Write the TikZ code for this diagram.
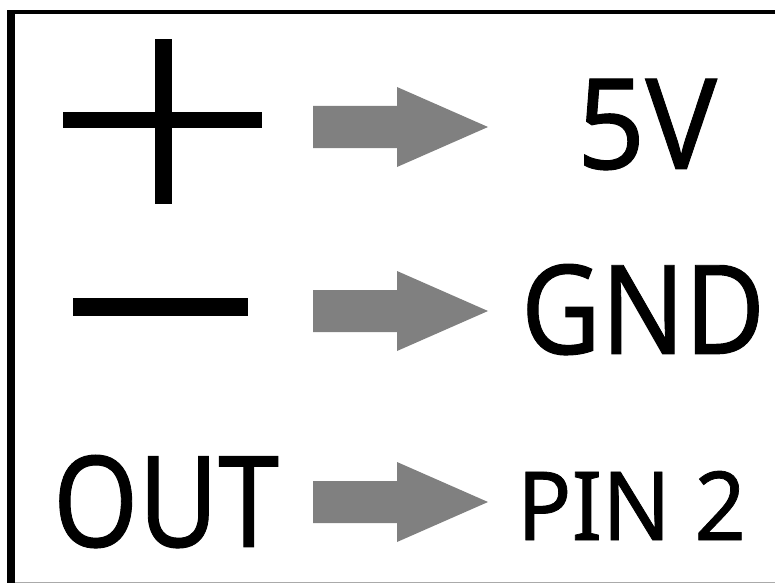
\documentclass[tikz,border=0pt]{standalone}
\usepackage{fontspec}
\usepackage{graphicx}
\setsansfont{Noto Sans}
\newfontfamily\lblfont{Noto Sans}[FakeBold=0.8]
\definecolor{arrowgray}{RGB}{128,128,128}
\definecolor{edgegray}{RGB}{170,170,170}
\tikzset{
  lbl/.style={anchor=north west, inner sep=0pt, outer sep=0pt, font=\lblfont},
  bar/.style={fill=black, draw=none},
  fatarrow/.style={fill=arrowgray, draw=none}
}
\newcommand{\fatarrowat}[1]{%
  \fill[fatarrow] (313,#1-21) -- (397,#1-21) -- (397,#1-40) -- (488,#1) -- (397,#1+40) -- (397,#1+21) -- (313,#1+21) -- cycle;}
\begin{document}
\begin{tikzpicture}[x=1pt,y=-1pt]
\useasboundingbox (0,0) rectangle (775,583);
\fill[white] (0,0) rectangle (775,583);
% frame
\fill[black] (7,10) rectangle (14.5,583);
\fill[black] (7,10) rectangle (775,14.5);
\fill[edgegray] (14.5,581.5) rectangle (775,583);
% plus sign
\fill[bar] (63,112) rectangle (262,128);
\fill[bar] (155,39) rectangle (172,204);
% minus sign
\fill[bar] (73,298) rectangle (248,316);
% arrows
\fatarrowat{127}
\fatarrowat{311}
\fatarrowat{502}
% labels
\node[lbl] (v5) at (577,79) {\resizebox*{140pt}{91pt}{5V}};
\node[lbl] (gnd) at (521,264) {\resizebox*{244pt}{91pt}{GND}};
\node[lbl] (out) at (53,455) {\resizebox*{226pt}{93pt}{OUT}};
\node[lbl] (pin) at (517,471) {\resizebox*{229pt}{69pt}{PIN 2}};
\end{tikzpicture}
\end{document}
